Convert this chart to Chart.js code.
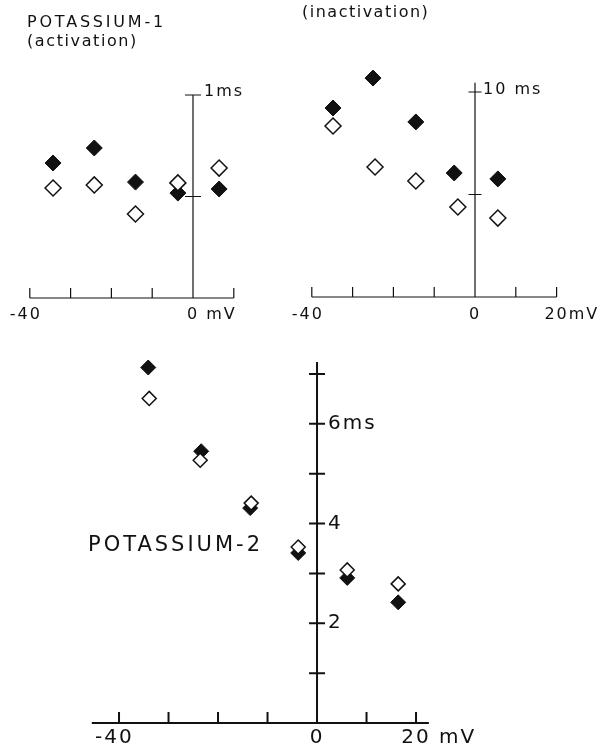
<!DOCTYPE html>
<html>
<head>
<meta charset="utf-8">
<script src="https://cdn.jsdelivr.net/npm/chart.js@4"></script>
<style>
body { margin: 0; background: #fff; }
#wrap { position: relative; width: 605px; height: 748px; overflow: hidden; }
canvas { position: absolute; left: 0; top: 0; }
</style>
</head>
<body>
<div id="wrap">
  <canvas id="k1a" width="605" height="748"></canvas>
  <canvas id="k1i" width="605" height="748"></canvas>
  <canvas id="k2" width="605" height="748"></canvas>
</div>
<script>
// potassium-1, activation (ms)
const k1ActVolts = [-34.3, -24.2, -14.1, -3.7, 6.4];
const k1ActFilled = [0.665, 0.739, 0.571, 0.517, 0.537];
const k1ActOpen = [0.542, 0.557, 0.414, 0.567, 0.640];
const k1ActXTicks = [-40, -30, -20, -10, 0, 10];
const k1ActXLabels = ['-40', '', '', '', '0 mV', ''];
const k1ActYTicks = [0.5, 1];
const k1ActYLabels = ['', '1ms'];

// potassium-1, inactivation (ms)
const k1InVoltsFilled = [-34.8, -25.0, -14.5, -5.1, 5.6];
const k1InFilled = [9.22, 10.68, 8.54, 6.05, 5.76];
const k1InVoltsOpen = [-34.8, -24.5, -14.5, -4.2, 5.6];
const k1InOpen = [8.34, 6.34, 5.66, 4.39, 3.85];
const k1InXTicks = [-40, -30, -20, -10, 0, 10, 20];
const k1InXLabels = ['-40', '', '', '', '0', '', '20mV'];
const k1InYTicks = [5, 10];
const k1InYLabels = ['', '10 ms'];

// potassium-2 (ms)
const k2VoltsFilled = [-34.1, -23.4, -13.5, -3.8, 6.1, 16.4];
const k2Filled = [7.13, 5.45, 4.31, 3.41, 2.91, 2.42];
const k2VoltsOpen = [-33.9, -23.6, -13.3, -3.8, 6.1, 16.4];
const k2Open = [6.51, 5.27, 4.41, 3.53, 3.07, 2.79];
const k2XTicks = [-40, -30, -20, -10, 0, 10, 20];
const k2XLabels = ['-40', '', '', '', '0', '', '20 mV'];
const k2YTicks = [1, 2, 3, 4, 5, 6, 7];
const k2YLabels = ['', '2', '', '4', '', '6ms', ''];

const ink = '#111';
const FONT = '"DejaVu Sans", sans-serif';

function pts(xs, ys) {
  return xs.map((v, i) => ({ x: v, y: ys[i] }));
}

// number part sits centred on the tick, sign and unit hang off it
function tickText(ctx, s, px, py) {
  const m = s.match(/^(-?)(\d+)(.*)$/);
  const w = ctx.measureText(m[2]).width;
  const start = px - w / 2;
  ctx.textAlign = 'left';
  ctx.fillText(m[2], start, py);
  if (m[1]) { ctx.textAlign = 'right'; ctx.fillText(m[1], start, py); }
  if (m[3]) { ctx.textAlign = 'left'; ctx.fillText(m[3], start + w, py); }
}

const paperAxes = {
  id: 'paperAxes',
  beforeDatasetsDraw(chart, args, o) {
    const ctx = chart.ctx, x = chart.scales.x, y = chart.scales.y;
    const x0 = x.getPixelForValue(0), yb = y.getPixelForValue(0);
    ctx.save();
    ctx.strokeStyle = ink;
    ctx.lineWidth = o.lw;
    ctx.beginPath();
    ctx.moveTo(x.getPixelForValue(o.xFrom), yb);
    ctx.lineTo(x.getPixelForValue(o.xTo), yb);
    ctx.moveTo(x0, y.getPixelForValue(o.yTop));
    ctx.lineTo(x0, yb);
    o.xTicks.forEach(v => {
      const px = x.getPixelForValue(v);
      ctx.moveTo(px, yb);
      ctx.lineTo(px, yb - o.tickLen);
    });
    o.yTicks.forEach(v => {
      const py = y.getPixelForValue(v);
      ctx.moveTo(x0 - o.half, py);
      ctx.lineTo(x0 + o.half, py);
    });
    ctx.stroke();

    ctx.fillStyle = ink;
    ctx.font = o.font;
    ctx.letterSpacing = o.spacing;
    ctx.textBaseline = 'alphabetic';
    o.xLabels.forEach((s, i) => {
      if (s) tickText(ctx, s, x.getPixelForValue(o.xTicks[i]), yb + o.xLabelDy);
    });
    ctx.textBaseline = 'middle';
    ctx.textAlign = 'left';
    o.yLabels.forEach((s, i) => {
      if (s) ctx.fillText(s, x0 + o.yLabelDx, y.getPixelForValue(o.yTicks[i]) + o.yLabelDy);
    });

    ctx.textBaseline = 'alphabetic';
    (o.notes || []).forEach(n => {
      ctx.font = n.size + 'px ' + FONT;
      ctx.letterSpacing = n.spacing;
      ctx.fillText(n.text, n.x, n.y);
    });
    ctx.restore();
  }
};

function panel(id, pad, xr, yr, open, filled, r, axes) {
  return new Chart(document.getElementById(id), {
    type: 'scatter',
    data: {
      datasets: [
        { data: open, pointStyle: 'rectRot', pointRadius: r[1], backgroundColor: '#fff',
          borderColor: ink, borderWidth: 1.5, clip: false },
        { data: filled, pointStyle: 'rectRot', pointRadius: r[0], backgroundColor: ink,
          borderColor: ink, borderWidth: 1, clip: false }
      ]
    },
    options: {
      responsive: false,
      animation: false,
      devicePixelRatio: 1,
      events: [],
      layout: { padding: pad },
      scales: {
        x: { type: 'linear', min: xr[0], max: xr[1], display: false },
        y: { type: 'linear', min: yr[0], max: yr[1], display: false }
      },
      plugins: { legend: { display: false }, tooltip: { enabled: false }, paperAxes: axes }
    },
    plugins: [paperAxes]
  });
}

// top left: 0 mV at x=193, 40.8 px per 10 mV; 0 ms at y=298, 1 ms at y=95
panel('k1a', { left: 29.8, right: 605 - 233.8, top: 95, bottom: 748 - 298 },
  [-40, 10], [0, 1],
  pts(k1ActVolts, k1ActOpen), pts(k1ActVolts, k1ActFilled), [8, 8],
  { lw: 1.2, xFrom: -40, xTo: 10, yTop: 1, xTicks: k1ActXTicks, xLabels: k1ActXLabels,
    yTicks: k1ActYTicks, yLabels: k1ActYLabels, tickLen: 10, half: 8,
    font: '16px ' + FONT, spacing: '2px', xLabelDy: 21, yLabelDx: 11, yLabelDy: -3,
    notes: [
      { text: 'POTASSIUM-1', x: 27, y: 27, size: 16, spacing: '2.8px' },
      { text: '(activation)', x: 27, y: 46, size: 16, spacing: '1.6px' }
    ] });

// top right: 0 mV at x=475; 0 ms at y=297, 20.5 px per ms (scale runs to 11 ms so the top point is kept)
panel('k1i', { left: 311.8, right: 605 - 556.6, top: 297 - 11 * 20.5, bottom: 748 - 297 },
  [-40, 20], [0, 11],
  pts(k1InVoltsOpen, k1InOpen), pts(k1InVoltsFilled, k1InFilled), [8, 8],
  { lw: 1.2, xFrom: -40, xTo: 20, yTop: 10.45, xTicks: k1InXTicks, xLabels: k1InXLabels,
    yTicks: k1InYTicks, yLabels: k1InYLabels, tickLen: 10, half: 6.5,
    font: '16px ' + FONT, spacing: '2px', xLabelDy: 22, yLabelDx: 8, yLabelDy: -2,
    notes: [
      { text: '(inactivation)', x: 302, y: 17, size: 16, spacing: '1.5px' }
    ] });

// bottom: 0 mV at x=317, 49.5 px per 10 mV; 0 ms at y=723, 49.86 px per ms
panel('k2', { left: 91.8, right: 605 - 428.9, top: 723 - 7.5 * 49.86, bottom: 748 - 723 },
  [-45.5, 22.6], [0, 7.5],
  pts(k2VoltsOpen, k2Open), pts(k2VoltsFilled, k2Filled), [7.5, 7],
  { lw: 2, xFrom: -45.5, xTo: 22.6, yTop: 7.24, xTicks: k2XTicks, xLabels: k2XLabels,
    yTicks: k2YTicks, yLabels: k2YLabels, tickLen: 11, half: 8,
    font: '20px ' + FONT, spacing: '2px', xLabelDy: 20, yLabelDx: 11, yLabelDy: 0,
    notes: [
      { text: 'POTASSIUM-2', x: 88, y: 551, size: 21, spacing: '3px' }
    ] });
</script>
</body>
</html>
